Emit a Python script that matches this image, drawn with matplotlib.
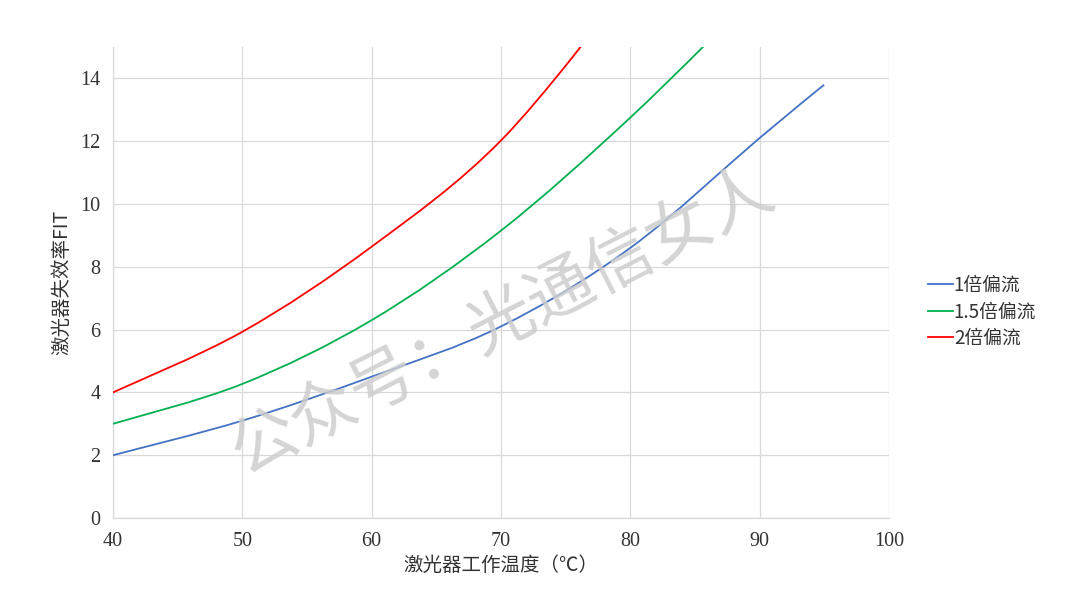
import matplotlib
matplotlib.use("Agg")
import matplotlib.pyplot as plt
from matplotlib.path import Path
from matplotlib.patches import PathPatch
from matplotlib.lines import Line2D
import numpy as np

plt.rcParams['font.family'] = ['Noto Sans CJK SC', 'DejaVu Sans']

# Data
temp_1x = [40, 50, 60, 70, 80, 90, 95]
fit_1x = [2.0, 3.1, 4.5, 6.1, 8.6, 12.1, 13.8]
temp_15x = [40, 50, 60, 70, 80, 90]
fit_15x = [3.0, 4.27, 6.3, 9.15, 12.75, 16.8]
temp_2x = [40, 50, 60, 70, 80]
fit_2x = [4.0, 5.93, 8.64, 12.02, 17.0]

labels = ['1倍偏流', '1.5倍偏流', '2倍偏流']
colors = ['#4472C4', '#00B050', '#FF0000']
xticks = [40, 50, 60, 70, 80, 90, 100]
yticks = [0, 2, 4, 6, 8, 10, 12, 14]

fig = plt.figure(figsize=(10.8, 6.08), dpi=100)
ax = fig.add_axes([0.1046, 0.148, 0.823 - 0.1046, 0.9227 - 0.148])


def smooth_path(xs, ys):
    """Excel-like smoothed line: cubic Bezier through the data points."""
    p = np.column_stack([xs, ys]).astype(float)
    n = len(p)
    verts = [p[0]]
    codes = [Path.MOVETO]
    for i in range(n - 1):
        p0 = p[i - 1] if i > 0 else p[i]
        p1 = p[i]
        p2 = p[i + 1]
        p3 = p[i + 2] if i + 2 < n else p[i + 1]
        c1 = p1 + (p2 - p0) / 6.0
        c2 = p2 - (p3 - p1) / 6.0
        verts += [c1, c2, p2]
        codes += [Path.CURVE4] * 3
    return Path(verts, codes)


series = [(temp_1x, fit_1x), (temp_15x, fit_15x), (temp_2x, fit_2x)]
for (xs, ys), c in zip(series, colors):
    patch = PathPatch(smooth_path(xs, ys), facecolor='none', edgecolor=c,
                      linewidth=1.3, zorder=3)
    ax.add_patch(patch)

ax.set_xlim(40, 100)
ax.set_ylim(0, 15)
ax.set_xticks(xticks)
ax.set_yticks(yticks)
ax.grid(True, color='#d9d9d9', linewidth=0.9, zorder=0)
ax.set_axisbelow(True)
for s in ['top', 'right']:
    ax.spines[s].set_visible(False)
for s in ['left', 'bottom']:
    ax.spines[s].set_color('#d9d9d9')
    ax.spines[s].set_linewidth(0.9)
ax.tick_params(axis='x', length=0, pad=10, labelsize=14.5, colors='#333333')
ax.tick_params(axis='y', length=0, pad=9, labelsize=14.5, colors='#333333')
for lab in ax.get_xticklabels() + ax.get_yticklabels():
    lab.set_family(['Liberation Serif', 'DejaVu Serif'])

ax.set_xlabel('激光器工作温度（℃）', fontsize=14, color='#333333', labelpad=3)
ax.set_ylabel('激光器失效率FIT', fontsize=14, color='#333333', labelpad=6)

handles = [Line2D([0], [0], color=c, linewidth=1.3) for c in colors]
fig.legend(handles, labels, loc='center left', bbox_to_anchor=(0.851, 0.487),
           frameon=False, fontsize=13.5, handlelength=1.3, handletextpad=0.05,
           labelspacing=0.3, borderpad=0, labelcolor='#333333')

# watermark
fig.text(0.466, 0.47, '公众号：光通信女人', fontsize=48, color='#cdcdcd',
         rotation=27, ha='center', va='center', alpha=0.85, zorder=5,
         fontweight='light')

fig.savefig('out.png', dpi=100, facecolor='white')
